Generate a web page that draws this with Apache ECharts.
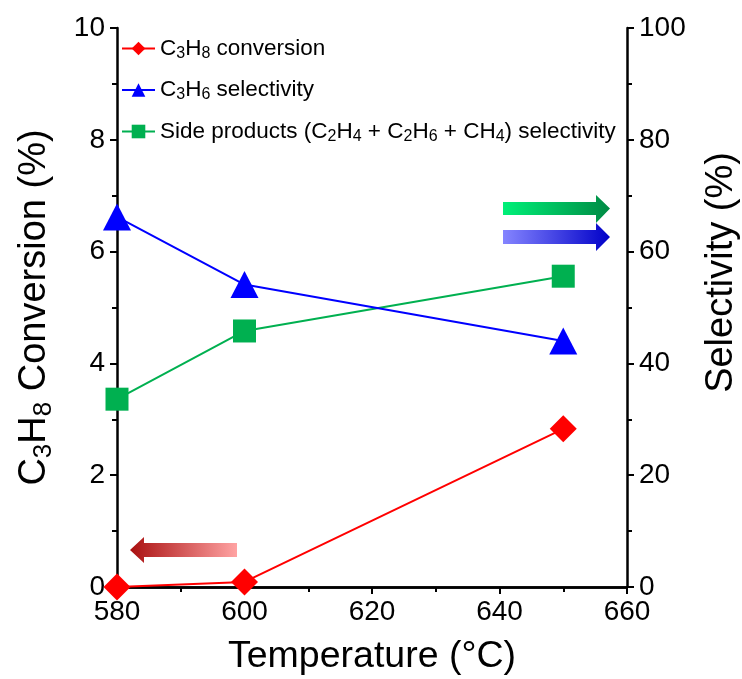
<!DOCTYPE html>
<html><head><meta charset="utf-8">
<script src="https://cdn.jsdelivr.net/npm/echarts@6/dist/echarts.min.js"></script>
<style>html,body{margin:0;padding:0;background:#fff}#c{width:742px;height:679px}</style>
</head><body><div id="c"></div>
<script>
const temperatures = [580, 600, 650];
const conversionC3H8 = [0, 0.09, 2.83];
const selectivityC3H6 = [66.2, 54.1, 44.0];
const selectivitySide = [33.6, 45.8, 55.6];
const xTicks = [580, 600, 620, 640, 660];
const leftTicks = [0, 2, 4, 6, 8, 10];
const rightTicks = [0, 20, 40, 60, 80, 100];

const chart = echarts.init(document.getElementById('c'));
const FONT = 'Liberation Sans, Arial, sans-serif';
const pair = (xs, ys) => xs.map((x, i) => [x, ys[i]]);
const sub = {
  n: {fontSize: 22.5, fontFamily: FONT, color: '#000'},
  s: {fontSize: 16, fontFamily: FONT, color: '#000', verticalAlign: 'bottom', padding: [10, 0, 0, 0]}
};
const legendText = {
  'C3H8 conversion': '{n|C}{s|3}{n|H}{s|8}{n| conversion}',
  'C3H6 selectivity': '{n|C}{s|3}{n|H}{s|6}{n| selectivity}',
  'Side products': '{n|Side products (C}{s|2}{n|H}{s|4}{n| + C}{s|2}{n|H}{s|6}{n| + CH}{s|4}{n|) selectivity}'
};
const axisLineStyle = {show: true, lineStyle: {color: '#000', width: 2.5}};
const tickFont = {fontSize: 28, fontFamily: FONT, color: '#000'};

chart.setOption({
  animation: false,
  grid: {left: 117, right: 115, top: 28, bottom: 92, outerBoundsMode: 'none', containLabel: false},
  legend: {
    orient: 'vertical', left: 116, top: 32, itemGap: 17,
    itemWidth: 33, itemHeight: 17,
    data: ['C3H8 conversion', 'C3H6 selectivity', 'Side products'],
    formatter: n => legendText[n],
    textStyle: {rich: sub, fontSize: 22.5}
  },
  xAxis: [{
    type: 'value', min: xTicks[0], max: xTicks[xTicks.length - 1], interval: 20,
    axisLine: axisLineStyle,
    axisTick: {show: true, inside: false, length: 7, lineStyle: {width: 2, color: '#000'}},
    minorTick: {show: true, splitNumber: 2, length: 5, lineStyle: {width: 2, color: '#000'}},
    splitLine: {show: false},
    axisLabel: Object.assign({margin: 11}, tickFont),
    name: 'Temperature (°C)', nameLocation: 'middle', nameGap: 51,
    nameTextStyle: {fontSize: 37.5, fontFamily: FONT, color: '#000'}
  }, {
    type: 'value', position: 'top', min: xTicks[0], max: xTicks[xTicks.length - 1],
    axisLine: axisLineStyle, axisTick: {show: false}, axisLabel: {show: false}, splitLine: {show: false}
  }],
  yAxis: [{
    type: 'value', min: leftTicks[0], max: leftTicks[leftTicks.length - 1], interval: 2,
    axisLine: axisLineStyle,
    axisTick: {show: true, length: 7, lineStyle: {width: 2, color: '#000'}},
    minorTick: {show: true, splitNumber: 2, length: 5, lineStyle: {width: 2, color: '#000'}},
    splitLine: {show: false},
    axisLabel: Object.assign({margin: 12}, tickFont),
    name: '{n|C}{s|3}{n|H}{s|8}{n| Conversion (%)}', nameLocation: 'middle', nameGap: 60,
    nameTextStyle: {
      rich: {
        n: {fontSize: 38, fontFamily: FONT, color: '#000'},
        s: {fontSize: 26, fontFamily: FONT, color: '#000', verticalAlign: 'bottom', padding: [18, 0, 0, 0]}
      }
    }
  }, {
    type: 'value', position: 'right', min: rightTicks[0], max: rightTicks[rightTicks.length - 1], interval: 20,
    axisLine: axisLineStyle,
    axisTick: {show: true, length: 7, lineStyle: {width: 2, color: '#000'}},
    minorTick: {show: true, splitNumber: 2, length: 5, lineStyle: {width: 2, color: '#000'}},
    splitLine: {show: false},
    axisLabel: Object.assign({margin: 12}, tickFont),
    name: 'Selectivity (%)', nameLocation: 'middle', nameGap: 76, nameRotate: 90,
    nameTextStyle: {fontSize: 38, fontFamily: FONT, color: '#000', padding: [0, 0, 0, 70]}
  }],
  series: [{
    name: 'Side products', type: 'line', yAxisIndex: 1,
    data: pair(temperatures, selectivitySide),
    symbol: 'rect', symbolSize: 23,
    itemStyle: {color: '#00b050'}, lineStyle: {color: '#00b050', width: 2}
  }, {
    name: 'C3H6 selectivity', type: 'line', yAxisIndex: 1,
    data: pair(temperatures, selectivityC3H6),
    symbol: 'triangle', symbolSize: [28, 27],
    itemStyle: {color: '#0000ff'}, lineStyle: {color: '#0000ff', width: 2}
  }, {
    name: 'C3H8 conversion', type: 'line', yAxisIndex: 0,
    data: pair(temperatures, conversionC3H8),
    symbol: 'diamond', symbolSize: [27, 27],
    itemStyle: {color: '#ff0000'}, lineStyle: {color: '#ff0000', width: 2}
  }],
  graphic: [{
    type: 'polygon',
    shape: {points: [[503, 202], [596, 202], [596, 195], [610, 208.5], [596, 223], [596, 215], [503, 215]]},
    style: {fill: new echarts.graphic.LinearGradient(0, 0, 1, 0, [{offset: 0, color: '#00f078'}, {offset: 1, color: '#008a44'}])}
  }, {
    type: 'polygon',
    shape: {points: [[503, 230], [596, 230], [596, 223], [610, 237], [596, 251], [596, 244], [503, 244]]},
    style: {fill: new echarts.graphic.LinearGradient(0, 0, 1, 0, [{offset: 0, color: '#8585ff'}, {offset: 1, color: '#0000c8'}])}
  }, {
    type: 'polygon',
    shape: {points: [[237, 543], [144, 543], [144, 537], [130, 550], [144, 563], [144, 557], [237, 557]]},
    style: {fill: new echarts.graphic.LinearGradient(0, 0, 1, 0, [{offset: 0, color: '#aa1010'}, {offset: 1, color: '#ffa3a3'}])}
  }]
});
</script></body></html>
